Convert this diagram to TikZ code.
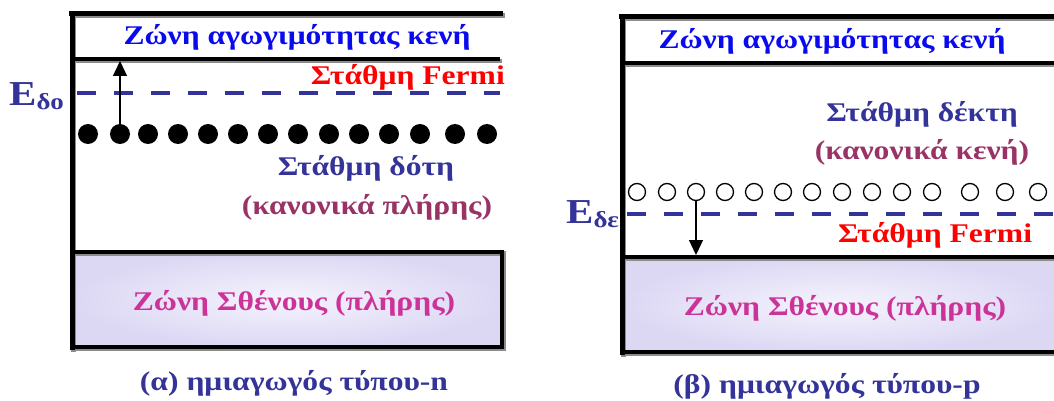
\documentclass[tikz,border=0pt]{standalone}
\usepackage{fontspec}
\setmainfont{Liberation Serif}
\usetikzlibrary{arrows.meta}
\definecolor{cbblue}{HTML}{0A0AEE}
\definecolor{fermired}{HTML}{FF0000}
\definecolor{levelblue}{HTML}{333399}
\definecolor{levelmaroon}{HTML}{993366}
\definecolor{vbmagenta}{HTML}{CC3399}
\definecolor{vbfill}{HTML}{DCD8F4}
\definecolor{vbcore}{HTML}{F5F3FD}
% labels are set in a slightly widened bold serif
\newcommand{\widetxt}[1]{\scalebox{1.17}[1]{#1}}
\tikzset{
  txt/.style={inner sep=0pt, font=\fontsize{#1}{#1}\selectfont\bfseries},
  txt/.default=27,
  fermiline/.style={draw=levelblue, line width=4pt, dash pattern=on 19pt off 18pt},
  frameline/.style={line width=5pt},
  bandline/.style={line width=4pt},
  vbbox/.style={line width=4.5pt},
  donor/.style={circle, fill=black, inner sep=0pt, minimum size=20pt},
  acceptor/.style={circle, draw=black, line width=1.3pt, fill=white, inner sep=0pt, minimum size=17pt},
  jump/.style={-{Triangle[width=14pt,length=15pt]}, line width=1.3pt},
}
\begin{document}
\begin{tikzpicture}[x=1pt,y=-1pt]
\useasboundingbox (0,0) rectangle (1054,401);

% ---------- (a) n-type ----------
% valence band fill
\shade[inner color=vbcore, outer color=vbfill] (72,252) rectangle (502,347);
% soft grey edge under the black frame lines
\begin{scope}[shift={(1.6,1.6)}, draw=black!45]
  \draw[frameline] (69,13.5) -- (503,13.5);
  \draw[frameline] (72,11) -- (72,350);
  \draw[bandline] (74,59) -- (500,59);
  \draw[vbbox] (72,252) rectangle (502,347);
\end{scope}
\draw[frameline] (69,13.5) -- (503,13.5);
\draw[frameline] (72,11) -- (72,350);
\draw[bandline] (74,59) -- (500,59);
\draw[vbbox] (72,252) rectangle (502,347);
% Fermi level
\draw[fermiline] (77,93) -- (500,93);
% donor level
\foreach \x [count=\i] in {88,120,148,178,208,238,268,298,329,359,389,420,455,487}
  \node[donor] (d\i) at (\x,134) {};
\coordinate (cbA) at (120,61);
\draw[jump] (d2.north) -- (cbA);

\node[txt, text=cbblue] (cbTxtA) at (297,37) {\widetxt{Ζώνη αγωγιμότητας κενή}};
\node[txt, text=fermired, anchor=east] (efTxtA) at (505,77) {\widetxt{Στάθμη Fermi}};
\node[txt=35, text=levelblue, anchor=west] (edA) at (9,96) {\widetxt{E\raisebox{-0.25ex}{\fontsize{23}{23}\selectfont δο}}};
\node[txt, text=levelblue] (donTxt) at (366,168) {\widetxt{Στάθμη δότη}};
\node[txt, text=levelmaroon] (donSub) at (367,207) {\widetxt{(κανονικά πλήρης)}};
\node[txt, text=vbmagenta] (vbTxtA) at (294,303) {\widetxt{Ζώνη Σθένους (πλήρης)}};
\node[txt, text=levelblue] (capA) at (294,383) {\widetxt{(α) ημιαγωγός τύπου-n}};

% ---------- (b) p-type ----------
\shade[inner color=vbcore, outer color=vbfill] (622,257) rectangle (1057,352);
\begin{scope}[shift={(1.6,1.6)}, draw=black!45]
  \draw[frameline] (619,17) -- (1056,17);
  \draw[frameline] (622,15) -- (622,355);
  \draw[bandline] (624,63) -- (1056,63);
  \draw[vbbox] (622,257) rectangle (1057,352);
\end{scope}
\draw[frameline] (619,17) -- (1056,17);
\draw[frameline] (622,15) -- (622,355);
\draw[bandline] (624,63) -- (1056,63);
\draw[vbbox] (622,257) rectangle (1057,352);
% Fermi level
\draw[fermiline] (627,214) -- (1056,214);
% acceptor level
\foreach \x [count=\i] in {637,667,696,725,754,783,812,842,872,902,932,970,1005,1038}
  \node[acceptor] (a\i) at (\x,192) {};
\coordinate (vbB) at (696,255);
\draw[jump] (a3.south) -- (vbB);

\node[txt, text=cbblue] (cbTxtB) at (832,41) {\widetxt{Ζώνη αγωγιμότητας κενή}};
\node[txt, text=levelblue] (accTxt) at (922,114) {\widetxt{Στάθμη δέκτη}};
\node[txt, text=levelmaroon] (accSub) at (922,152) {\widetxt{(κανονικά κενή)}};
\node[txt, text=fermired] (efTxtB) at (935,235) {\widetxt{Στάθμη Fermi}};
\node[txt=35, text=levelblue, anchor=west] (edB) at (566,214) {\widetxt{E\raisebox{-0.25ex}{\fontsize{23}{23}\selectfont δε}}};
\node[txt, text=vbmagenta] (vbTxtB) at (845,308) {\widetxt{Ζώνη Σθένους (πλήρης)}};
\node[txt, text=levelblue] (capB) at (827,386) {\widetxt{(β) ημιαγωγός τύπου-p}};
\end{tikzpicture}
\end{document}
